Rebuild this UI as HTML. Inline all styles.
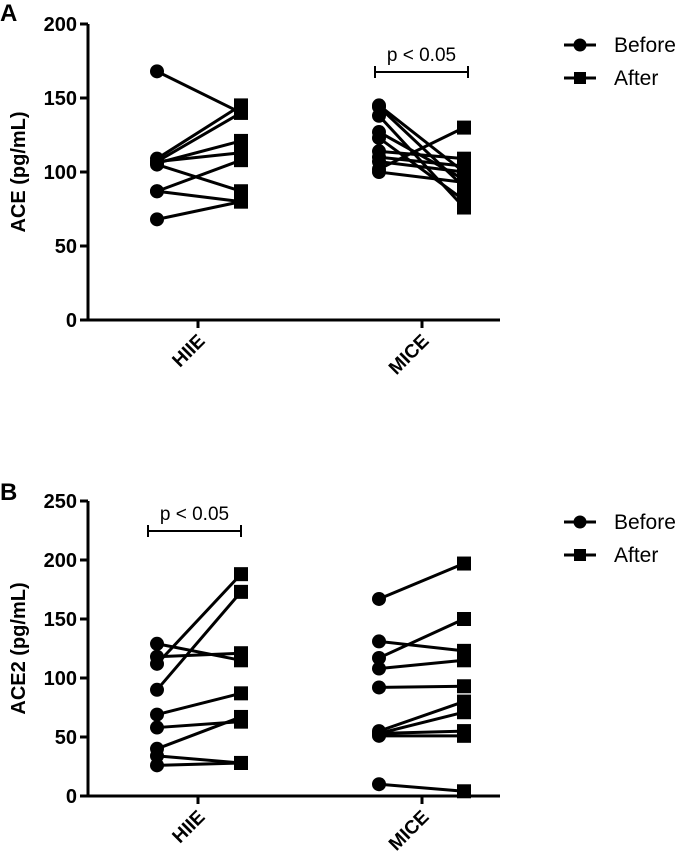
<!DOCTYPE html>
<html><head><meta charset="utf-8"><style>
html,body{margin:0;padding:0;background:#fff}
svg{display:block;font-family:"Liberation Sans",Arial,sans-serif}
</style></head><body>
<svg id="c" width="685" height="864" viewBox="0 0 685 864"></svg>
<script>
const groups = ["HIIE","MICE"];
const aHIIEBefore = [168,109,107,106,107,105,87,87,68];
const aHIIEAfter  = [140,145,140,121,113,87,108,80,80];
const aMICEBefore = [145,144,138,127,123,114,110,107,102,100];
const aMICEAfter  = [100,90,76,95,81,109,104,100,130,93];
const aTicks = [0,50,100,150,200];
const bHIIEBefore = [129,118,112,90,69,58,40,34,26];
const bHIIEAfter  = [115,121,188,173,87,63,67,28,28];
const bMICEBefore = [167,131,117,108,92,55,53,53,51,10];
const bMICEAfter  = [197,123,150,115,93,80,71,55,51,4];
const bTicks = [0,50,100,150,200,250];
const NS="http://www.w3.org/2000/svg";
const svg=document.getElementById('c');
function el(t,a,p){const e=document.createElementNS(NS,t);for(const k in a)e.setAttribute(k,a[k]);(p||svg).appendChild(e);return e;}
function panel(o){
  const g=el('g',{});
  
  
  const y=v=>o.y0-(v-0)*(o.y0-o.yTop)/o.yMax;
  const ax=el('path',{d:`M88 ${o.yTop} V${o.y0} H500`,stroke:'#000','stroke-width':3,fill:'none'},g);
  
  o.ticks.forEach(t=>{
    el('line',{x1:80,x2:88,y1:y(t),y2:y(t),stroke:'#000','stroke-width':3},g);
    const tx=el('text',{x:77,y:y(t)+7,'text-anchor':'end','font-size':20,'font-weight':'bold'},g);
    tx.textContent=t;
    
  });
  const tickX=[198,422];
  groups.forEach((gname,i)=>{
    el('line',{x1:tickX[i],x2:tickX[i],y1:o.y0,y2:o.y0+8,stroke:'#000','stroke-width':3},g);
    const tx=el('text',{x:0,y:0,'text-anchor':'end','font-size':19,'font-weight':'bold',transform:`translate(${tickX[i]+8},${o.y0+22}) rotate(-45)`},g);
    tx.textContent=gname;
    
  });
  const yl=el('text',{x:0,y:0,'text-anchor':'middle','font-size':20,'font-weight':'bold',transform:`translate(25,${(o.y0+o.yTop)/2}) rotate(-90)`},g);
  yl.textContent=o.ylabel;
  const pl=el('text',{x:0,y:o.letterY,'font-size':24,'font-weight':'bold'},g);
  pl.textContent=o.letter;
  const bx=[[157,241],[379,464]];
  o.series.forEach((s,i)=>{
    const [xb,xa]=bx[i];
    s[0].forEach((b,j)=>{
      const a=s[1][j];
      const ln=el('line',{x1:xb,y1:y(b),x2:xa,y2:y(a),stroke:'#000','stroke-width':3},g);
      
      const c=el('circle',{cx:xb,cy:y(b),r:7,fill:'#000'},g);
      
      const r=el('rect',{x:xa-7,y:y(a)-7,width:14,height:14,fill:'#000'},g);
      
    });
  });
  const [x1,x2]=o.sig.x, sy=o.sig.y;
  const br=el('path',{d:`M${x1} ${sy-6} V${sy+6} M${x1} ${sy} H${x2} M${x2} ${sy-6} V${sy+6}`,stroke:'#000','stroke-width':2,fill:'none'},g);
  
  const st=el('text',{x:(x1+x2)/2,y:sy-11,'text-anchor':'middle','font-size':19},g);
  st.textContent='p < 0.05';
  [['Before',o.legY,'c'],['After',o.legY+33,'s']].forEach(([t,ly,m])=>{
    const lg=el('g',{},g);
    
    el('line',{x1:564,x2:596,y1:ly,y2:ly,stroke:'#000','stroke-width':3},lg);
    if(m==='c')el('circle',{cx:580,cy:ly,r:6.5,fill:'#000'},lg);
    else el('rect',{x:574,y:ly-6,width:12,height:12,fill:'#000'},lg);
    const tt=el('text',{x:614,y:ly+7,'font-size':21},lg);tt.textContent=t;
  });
}
panel({name:'chart-a',letter:'A',letterY:21,ylabel:'ACE (pg/mL)',yTop:24,y0:320,yMax:200,ticks:aTicks,
  series:[[aHIIEBefore,aHIIEAfter],[aMICEBefore,aMICEAfter]],sig:{x:[375,468],y:72},legY:45});
panel({name:'chart-b',letter:'B',letterY:500,ylabel:'ACE2 (pg/mL)',yTop:501,y0:796,yMax:250,ticks:bTicks,
  series:[[bHIIEBefore,bHIIEAfter],[bMICEBefore,bMICEAfter]],sig:{x:[148,241],y:531},legY:522});
</script>
</body></html>
